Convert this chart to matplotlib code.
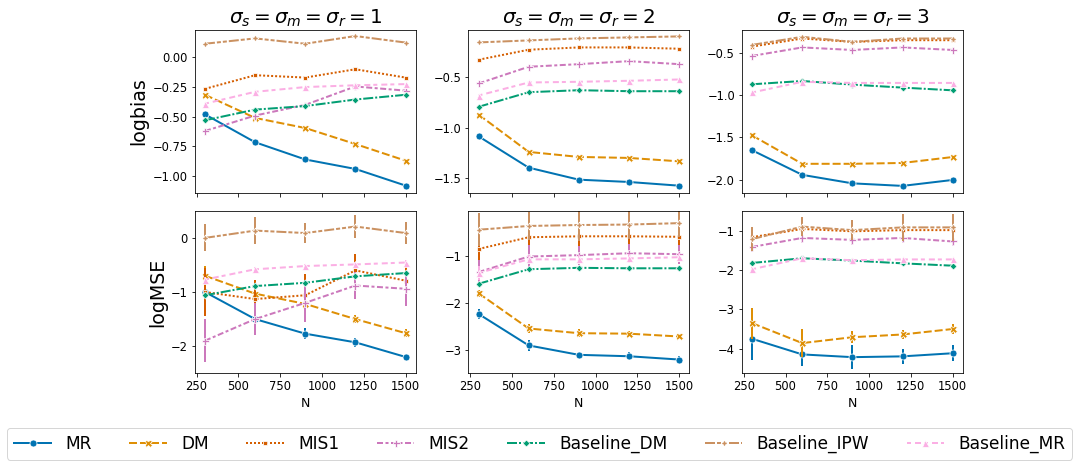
import matplotlib.pyplot as plt

# sample sizes on the x axis
N = [300, 600, 900, 1200, 1500]
sigmas = [1, 2, 3]
methods = ['MR', 'DM', 'MIS1', 'MIS2', 'Baseline_DM', 'Baseline_IPW', 'Baseline_MR']

# logbias, one row per method (same order as methods)
bias_s1 = [[-0.48, -0.715, -0.86, -0.94, -1.08],
           [-0.315, -0.51, -0.595, -0.73, -0.87],
           [-0.265, -0.15, -0.17, -0.10, -0.17],
           [-0.62, -0.49, -0.40, -0.245, -0.28],
           [-0.53, -0.44, -0.41, -0.355, -0.315],
           [0.115, 0.16, 0.115, 0.18, 0.125],
           [-0.39, -0.29, -0.25, -0.235, -0.225]]
bias_s2 = [[-1.087, -1.40, -1.52, -1.543, -1.58],
           [-0.87, -1.243, -1.293, -1.303, -1.337],
           [-0.323, -0.223, -0.20, -0.20, -0.213],
           [-0.56, -0.393, -0.367, -0.337, -0.367],
           [-0.793, -0.647, -0.627, -0.637, -0.637],
           [-0.15, -0.13, -0.11, -0.10, -0.09],
           [-0.68, -0.55, -0.543, -0.533, -0.52]]
bias_s3 = [[-1.65, -1.94, -2.04, -2.07, -2.0],
           [-1.476, -1.81, -1.81, -1.80, -1.73],
           [-0.43, -0.335, -0.375, -0.355, -0.355],
           [-0.54, -0.44, -0.47, -0.44, -0.47],
           [-0.874, -0.835, -0.878, -0.913, -0.945],
           [-0.41, -0.315, -0.375, -0.335, -0.335],
           [-0.97, -0.845, -0.858, -0.858, -0.858]]

# logMSE and error bar half widths
mse_s1 = [[-1.0, -1.5, -1.77, -1.93, -2.2],
          [-0.7, -1.03, -1.22, -1.5, -1.76],
          [-1.0, -1.13, -1.06, -0.6, -0.79],
          [-1.9, -1.5, -1.2, -0.88, -0.94],
          [-1.06, -0.89, -0.83, -0.71, -0.65],
          [0.0, 0.135, 0.09, 0.21, 0.09],
          [-0.77, -0.58, -0.52, -0.49, -0.455]]
err_s1 = [[0.06, 0.06, 0.1, 0.08, 0.06],
          [0.18, 0.1, 0.08, 0.08, 0.08],
          [0.45, 0.35, 0.4, 0.3, 0.25],
          [0.4, 0.3, 0.35, 0.25, 0.32],
          [0.05, 0.05, 0.05, 0.05, 0.04],
          [0.25, 0.25, 0.18, 0.22, 0.2],
          [0.05, 0.05, 0.04, 0.04, 0.04]]
mse_s2 = [[-2.24, -2.91, -3.11, -3.14, -3.21],
          [-1.80, -2.55, -2.65, -2.66, -2.72],
          [-0.86, -0.61, -0.59, -0.59, -0.6],
          [-1.35, -1.02, -0.99, -0.95, -0.97],
          [-1.60, -1.29, -1.26, -1.27, -1.27],
          [-0.45, -0.37, -0.35, -0.34, -0.31],
          [-1.37, -1.08, -1.08, -1.06, -1.035]]
err_s2 = [[0.1, 0.12, 0.07, 0.08, 0.07],
          [0.07, 0.1, 0.08, 0.05, 0.06],
          [0.5, 0.4, 0.45, 0.4, 0.4],
          [0.25, 0.25, 0.2, 0.2, 0.2],
          [0.04, 0.04, 0.04, 0.04, 0.04],
          [0.35, 0.3, 0.35, 0.3, 0.3],
          [0.15, 0.1, 0.1, 0.1, 0.1]]
mse_s3 = [[-3.75, -4.15, -4.22, -4.2, -4.12],
          [-3.35, -3.86, -3.71, -3.64, -3.5],
          [-1.15, -0.94, -1.0, -0.97, -0.97],
          [-1.4, -1.17, -1.22, -1.17, -1.26],
          [-1.81, -1.69, -1.75, -1.82, -1.88],
          [-1.2, -0.88, -0.97, -0.9, -0.9],
          [-1.97, -1.69, -1.74, -1.72, -1.72]]
err_s3 = [[0.55, 0.3, 0.3, 0.2, 0.2],
          [0.4, 0.35, 0.15, 0.12, 0.12],
          [0.15, 0.15, 0.15, 0.15, 0.15],
          [0.12, 0.12, 0.12, 0.12, 0.12],
          [0.05, 0.04, 0.04, 0.04, 0.04],
          [0.3, 0.25, 0.25, 0.35, 0.35],
          [0.06, 0.04, 0.04, 0.04, 0.04]]

bias_all = [bias_s1, bias_s2, bias_s3]
mse_all = [mse_s1, mse_s2, mse_s3]
err_all = [err_s1, err_s2, err_s3]

# seaborn colorblind palette + default seaborn markers / dashes
colors = ['#0173b2', '#de8f05', '#d55e00', '#cc78bc', '#029e73', '#ca9161', '#fbafe4']
markers = ['o', 'X', (4, 0, 45), 'P', (4, 0, 0), (4, 1, 0), '^']
dashes = [None, (4, 1.5), (1, 1), (3, 1.25, 1.5, 1.25), (5, 1, 1, 1),
          (5, 1, 2, 1, 2, 1), (2, 2, 3, 1.5)]

fig, axes = plt.subplots(2, 3, figsize=(1089 / 72, 463 / 72), dpi=72)
fig.subplots_adjust(left=0.179, right=0.884, top=0.935, bottom=0.194,
                    wspace=0.24, hspace=0.11)


def draw(ax, ys, errs=None):
    for i, m in enumerate(methods):
        if errs is not None:
            lo = [y - e for y, e in zip(ys[i], errs[i])]
            hi = [y + e for y, e in zip(ys[i], errs[i])]
            ax.vlines(N, lo, hi, color=colors[i], lw=2)
        line, = ax.plot(N, ys[i], color=colors[i], lw=2, marker=markers[i],
                        ms=7, mec='white', mew=0.75, label=m)
        if dashes[i] is not None:
            line.set_dashes(dashes[i])


for j in range(3):
    draw(axes[0, j], bias_all[j])
    draw(axes[1, j], mse_all[j], err_all[j])
    axes[0, j].set_title(r'$\sigma_s = \sigma_m = \sigma_r = %d$' % sigmas[j], fontsize=20)
    axes[0, j].set_xticks([250, 500, 750, 1000, 1250, 1500])
    axes[0, j].set_xticklabels([])
    axes[1, j].set_xticks([250, 500, 750, 1000, 1250, 1500])
    axes[1, j].set_xlabel('N', fontsize=12.5)
    for ax in axes[:, j]:
        ax.set_xlim(240, 1560)
        ax.tick_params(labelsize=11.5)

axes[0, 0].set_ylim(-1.14, 0.23)
axes[0, 1].set_ylim(-1.65, -0.027)
axes[0, 2].set_ylim(-2.15, -0.236)
axes[1, 0].set_ylim(-2.5, 0.505)
axes[1, 1].set_ylim(-3.5, -0.043)
axes[1, 2].set_ylim(-4.63, -0.47)
axes[0, 0].set_yticks([0.0, -0.25, -0.5, -0.75, -1.0])
axes[0, 1].set_yticks([-0.5, -1.0, -1.5])
axes[0, 2].set_yticks([-0.5, -1.0, -1.5, -2.0])
axes[1, 0].set_yticks([0, -1, -2])
axes[1, 1].set_yticks([-1, -2, -3])
axes[1, 2].set_yticks([-1, -2, -3, -4])

axes[0, 0].set_ylabel('logbias', fontsize=19)
axes[1, 0].set_ylabel('logMSE', fontsize=19)

handles, labels = axes[0, 0].get_legend_handles_labels()
fig.legend(handles, labels, loc='upper left', bbox_to_anchor=(7 / 1089, 1 - 428 / 463),
           borderaxespad=0, ncol=7, fontsize=17, handlelength=2.2,
           handletextpad=0.85, columnspacing=2.2)

fig.savefig('out.png', dpi=72)
